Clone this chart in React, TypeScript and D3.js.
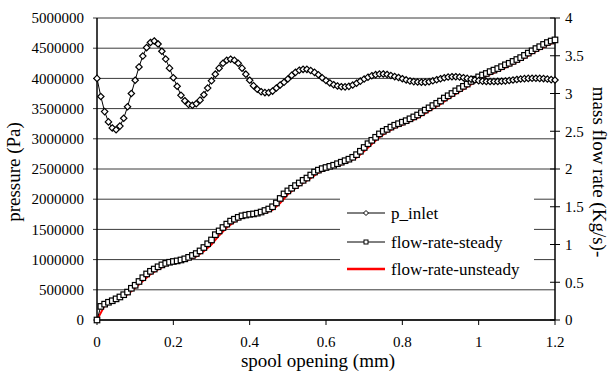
import React from "react";
import * as d3 from "d3";

// spool opening sampling (mm)
const xStep = 0.01;
const xStepUnsteady = 0.02;

// p_inlet (Pa), one value every 0.01 mm
const pInlet = [
  4000000, 3700000, 3450000, 3280000, 3180000, 3150000, 3210000, 3340000, 3530000, 3750000,
  3970000, 4190000, 4370000, 4510000, 4595000, 4620000, 4570000, 4450000, 4320000, 4170000,
  4010000, 3870000, 3720000, 3630000, 3570000, 3555000, 3580000, 3640000, 3730000, 3840000,
  3960000, 4070000, 4170000, 4250000, 4300000, 4318000, 4300000, 4250000, 4170000, 4070000,
  3970000, 3880000, 3820000, 3780000, 3765000, 3765000, 3790000, 3840000, 3890000, 3935000,
  3990000, 4050000, 4100000, 4135000, 4150000, 4150000, 4130000, 4100000, 4060000, 4010000,
  3965000, 3925000, 3895000, 3875000, 3862000, 3860000, 3868000, 3890000, 3920000, 3955000,
  3990000, 4020000, 4045000, 4062000, 4072000, 4073000, 4065000, 4048000, 4030000, 4015000,
  3995000, 3975000, 3958000, 3947000, 3940000, 3937000, 3938000, 3945000, 3960000, 3978000,
  3995000, 4010000, 4022000, 4028000, 4028000, 4022000, 4012000, 4000000, 3988000, 3975000,
  3963000, 3955000, 3950000, 3948000, 3948000, 3950000, 3953000, 3958000, 3965000, 3973000,
  3982000, 3990000, 3996000, 4000000, 4002000, 4002000, 4000000, 3997000, 3990000, 3980000,
  3973000,
];

// flow-rate-steady (Kg/s), one value every 0.01 mm
const flowSteady = [
  0.0, 0.18, 0.21, 0.235, 0.255, 0.28, 0.305, 0.335, 0.37, 0.42,
  0.46, 0.51, 0.56, 0.61, 0.645, 0.675, 0.705, 0.73, 0.75, 0.765,
  0.775, 0.783, 0.795, 0.81, 0.83, 0.855, 0.88, 0.915, 0.96, 1.01,
  1.06, 1.13, 1.18, 1.225, 1.27, 1.31, 1.335, 1.36, 1.38, 1.39,
  1.4, 1.405, 1.415, 1.43, 1.45, 1.47, 1.5, 1.55, 1.61, 1.67,
  1.71, 1.745, 1.78, 1.815, 1.85, 1.88, 1.92, 1.96, 1.985, 2.005,
  2.02, 2.035, 2.05, 2.07, 2.09, 2.11, 2.13, 2.155, 2.19, 2.235,
  2.285, 2.335, 2.38, 2.42, 2.465, 2.5, 2.525, 2.555, 2.58, 2.6,
  2.62, 2.64, 2.665, 2.69, 2.715, 2.745, 2.78, 2.81, 2.84, 2.87,
  2.9, 2.94, 2.97, 3.0, 3.035, 3.065, 3.095, 3.125, 3.16, 3.19,
  3.22, 3.245, 3.265, 3.29, 3.31, 3.33, 3.355, 3.38, 3.4, 3.425,
  3.45, 3.475, 3.505, 3.535, 3.565, 3.595, 3.62, 3.65, 3.675, 3.695,
  3.71,
];

// flow-rate-unsteady (Kg/s), one value every 0.02 mm
const flowUnsteady = [
  0.0, 0.19, 0.235, 0.285, 0.34, 0.425, 0.515, 0.605, 0.67, 0.725,
  0.76, 0.778, 0.8, 0.84, 0.91, 1.0, 1.12, 1.225, 1.3, 1.355,
  1.385, 1.4, 1.42, 1.46, 1.55, 1.665, 1.745, 1.815, 1.88, 1.95,
  1.995, 2.025, 2.06, 2.1, 2.15, 2.235, 2.33, 2.42, 2.49, 2.545,
  2.585, 2.63, 2.678, 2.735, 2.8, 2.86, 2.93, 2.995, 3.055, 3.12,
  3.18, 3.232, 3.275, 3.32, 3.365, 3.415, 3.47, 3.53, 3.585, 3.64,
  3.68,
];

const xTicks = [0, 0.2, 0.4, 0.6, 0.8, 1, 1.2];
const leftTicks = [0, 500000, 1000000, 1500000, 2000000, 2500000, 3000000, 3500000, 4000000, 4500000, 5000000];
const rightTicks = [0, 0.5, 1, 1.5, 2, 2.5, 3, 3.5, 4];

const seriesNames = ["p_inlet", "flow-rate-steady", "flow-rate-unsteady"];

const W = 610;
const H = 376;
const left = 97;
const right = 555;
const top = 18;
const bottom = 320;
const FONT = '"Liberation Serif", "Times New Roman", Times, serif';
const txt = { fontFamily: FONT };

export default function App() {
  const x = d3.scaleLinear().domain([0, 1.2]).range([left, right]);
  const yL = d3.scaleLinear().domain([0, 5000000]).range([bottom, top]);
  const yR = d3.scaleLinear().domain([0, 4]).range([bottom, top]);

  const pData = pInlet.map((v, i) => [i * xStep, v] as [number, number]);
  const sData = flowSteady.map((v, i) => [i * xStep, v] as [number, number]);
  const uData = flowUnsteady.map((v, i) => [i * xStepUnsteady, v] as [number, number]);

  const pLine = d3.line<[number, number]>().x((d) => x(d[0])).y((d) => yL(d[1]));
  const fLine = d3.line<[number, number]>().x((d) => x(d[0])).y((d) => yR(d[1]));

  const diamond = (cx: number, cy: number, r: number) =>
    `M${cx},${cy - r}L${cx + r},${cy}L${cx},${cy + r}L${cx - r},${cy}Z`;

  const legX = 340;
  const legY = 190;
  const legW = 194;
  const legH = 90;
  const legRows = [213, 242, 269];

  return (
    <svg width={W} height={H} style={{ position: "absolute", left: 0, top: 0, background: "#fff", fontFamily: FONT }}>
      {/* gridlines */}
      {leftTicks.map((t) => (
        <line key={"g" + t} x1={left - 4} x2={right} y1={yL(t)} y2={yL(t)} stroke="#3a3a3a" strokeWidth={1} />
      ))}
      {/* legend background */}
      <rect x={legX} y={legY} width={legW} height={legH} fill="#fff" />
      {/* axes */}
      <line x1={left} x2={left} y1={top} y2={bottom} stroke="#000" strokeWidth={1.5} />
      <line x1={right} x2={right} y1={top} y2={bottom} stroke="#000" strokeWidth={1.5} />
      <line x1={left} x2={right} y1={bottom} y2={bottom} stroke="#000" strokeWidth={1.5} />
      {xTicks.map((t) => (
        <line key={"xt" + t} x1={x(t)} x2={x(t)} y1={bottom} y2={bottom + 5} stroke="#000" strokeWidth={1} />
      ))}
      {rightTicks.map((t) => (
        <line key={"rt" + t} x1={right - 5} x2={right + 5} y1={yR(t)} y2={yR(t)} stroke="#000" strokeWidth={1} />
      ))}
      {/* tick labels */}
      {leftTicks.map((t) => (
        <text key={"lt" + t} x={84} y={yL(t)} dy="0.35em" textAnchor="end" fontSize={15} fill="#000" style={txt}>
          {t}
        </text>
      ))}
      {rightTicks.map((t) => (
        <text key={"rl" + t} x={565} y={yR(t)} dy="0.35em" textAnchor="start" fontSize={15} fill="#000" style={txt}>
          {t}
        </text>
      ))}
      {xTicks.map((t) => (
        <text key={"xl" + t} x={x(t)} y={347} textAnchor="middle" fontSize={15} fill="#000" style={txt}>
          {t}
        </text>
      ))}
      {/* axis titles */}
      <text x={318} y={367} textAnchor="middle" fontSize={19} fill="#000" style={txt}>
        spool opening (mm)
      </text>
      <text transform={`translate(20,172) rotate(-90)`} textAnchor="middle" fontSize={19} fill="#000" style={txt}>
        pressure (Pa)
      </text>
      <text transform={`translate(593,172) rotate(90)`} textAnchor="middle" fontSize={19} fill="#000" style={txt}>
        mass flow rate (Kg/s)-
      </text>

      {/* series */}
      <path d={fLine(uData) || ""} fill="none" stroke="#ff0000" strokeWidth={2} />
      <path d={fLine(sData) || ""} fill="none" stroke="#000" strokeWidth={1} />
      {sData.map((d, i) => (
        <rect key={"s" + i} x={x(d[0]) - 2.75} y={yR(d[1]) - 2.75} width={5.5} height={5.5} fill="#fff" stroke="#000" strokeWidth={1.2} />
      ))}
      <path d={pLine(pData) || ""} fill="none" stroke="#000" strokeWidth={1} />
      {pData.map((d, i) => (
        <path key={"p" + i} d={diamond(x(d[0]), yL(d[1]), 3.2)} fill="#fff" stroke="#000" strokeWidth={1.2} />
      ))}

      {/* legend */}
      <g>
        <line x1={347} x2={385} y1={legRows[0]} y2={legRows[0]} stroke="#000" strokeWidth={1} />
        <path d={diamond(366, legRows[0], 2.5)} fill="#fff" stroke="#000" strokeWidth={1} />
        <text x={391} y={legRows[0]} dy="0.35em" fontSize={17} fill="#000" style={txt}>{seriesNames[0]}</text>
        <line x1={347} x2={385} y1={legRows[1]} y2={legRows[1]} stroke="#000" strokeWidth={1} />
        <rect x={364} y={legRows[1] - 2} width={4} height={4} fill="#fff" stroke="#000" strokeWidth={1} />
        <text x={391} y={legRows[1]} dy="0.35em" fontSize={17} fill="#000" style={txt}>{seriesNames[1]}</text>
        <line x1={347} x2={385} y1={legRows[2]} y2={legRows[2]} stroke="#ff0000" strokeWidth={2.5} />
        <text x={391} y={legRows[2]} dy="0.35em" fontSize={17} fill="#000" style={txt}>{seriesNames[2]}</text>
      </g>
    </svg>
  );
}
